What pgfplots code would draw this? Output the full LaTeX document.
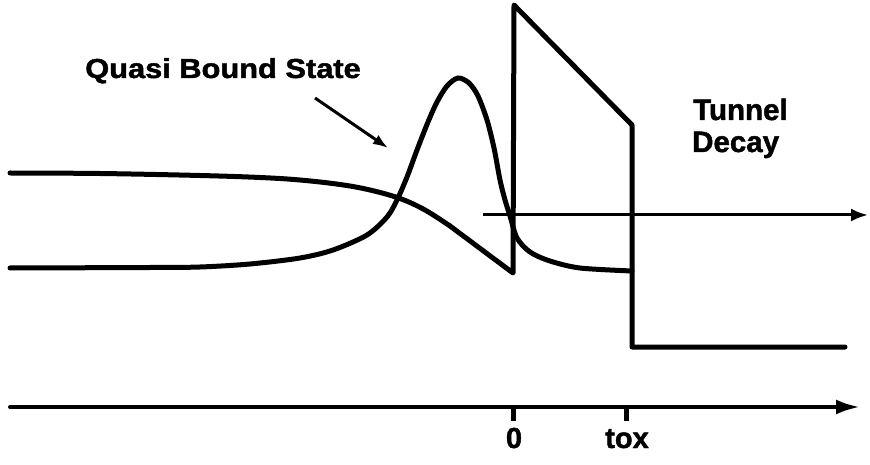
\documentclass[border=0pt]{standalone}
\usepackage{fontspec}
\setmainfont{Liberation Sans}
\newfontfamily\heavy{Liberation Sans Bold}[FakeBold=1.5]
\usepackage{pgfplots}
\pgfplotsset{compat=1.18}
\usetikzlibrary{arrows.meta}

\begin{document}
\begin{tikzpicture}
\begin{axis}[
    width=870pt, height=464pt, scale only axis,
    xmin=0, xmax=870, ymin=0, ymax=464,
    hide axis, clip=false,
]
% frame that fixes the page size
\addplot[draw=none] coordinates {(0,0) (870,464)};

% conduction band edge: curved part in the well
\addplot[black, line width=5pt, smooth, tension=0.6, line cap=round] coordinates {
    (10,291) (100,290.5) (200,288.5) (260,286.5) (300,284) (340,279.5)
    (370,274) (400,265.5) (425,254) (450,238)
};
% triangular well tip, oxide barrier and substrate level
\addplot[black, line width=5pt, line join=round, line cap=round] coordinates {
    (450,238) (513,191) (514,459) (632,339) (632,117) (845,117)
};

% quasi bound state wavefunction
\addplot[black, line width=5pt, smooth, tension=0.5, line cap=round] coordinates {
    (10,196) (150,196.5) (200,197) (250,200) (300,206) (333,214)
    (367,229) (387,247) (397,264) (407,287) (417,314) (428,342)
    (437,362) (447,378) (458,386) (469,381) (478,368) (487,344)
    (494,316) (500,284) (505,264) (510,248) (517,226) (530,212)
    (550,203) (580,196) (632,193)
};

% tunnelling direction
\addplot[black, line width=3pt, -{Latex[length=17pt,width=13pt]}] coordinates {
    (483,249) (868,249)
};

% position axis with ticks at 0 and tox
\addplot[black, line width=4pt, line cap=round, -{Latex[length=24pt,width=15pt]}] coordinates {
    (10,57) (860,57)
};
\addplot[black, line width=5pt] coordinates {(513,57) (513,43)};
\addplot[black, line width=5pt] coordinates {(626,57) (626,43)};

% pointer to the bound state
\addplot[black, line width=3pt, -{Latex[length=15pt,width=11pt]}] coordinates {
    (315,366) (388,316)
};

\node[anchor=base, font=\heavy\fontsize{29}{32}\selectfont, inner sep=0pt]
    at (axis cs:514,16) {0};
\node[anchor=base, font=\heavy\fontsize{29}{32}\selectfont, inner sep=0pt]
    at (axis cs:627,16) {tox};
\node[anchor=base west, font=\heavy\fontsize{27.5}{30}\selectfont, inner sep=0pt, xscale=1.12]
    at (axis cs:85,386) {Quasi Bound State};
\node[anchor=base west, font=\heavy\fontsize{29.5}{32}\selectfont, inner sep=0pt]
    at (axis cs:693,344) {Tunnel};
\node[anchor=base west, font=\heavy\fontsize{29.5}{32}\selectfont, inner sep=0pt]
    at (axis cs:692,312) {Decay};
\end{axis}
\end{tikzpicture}
\end{document}
